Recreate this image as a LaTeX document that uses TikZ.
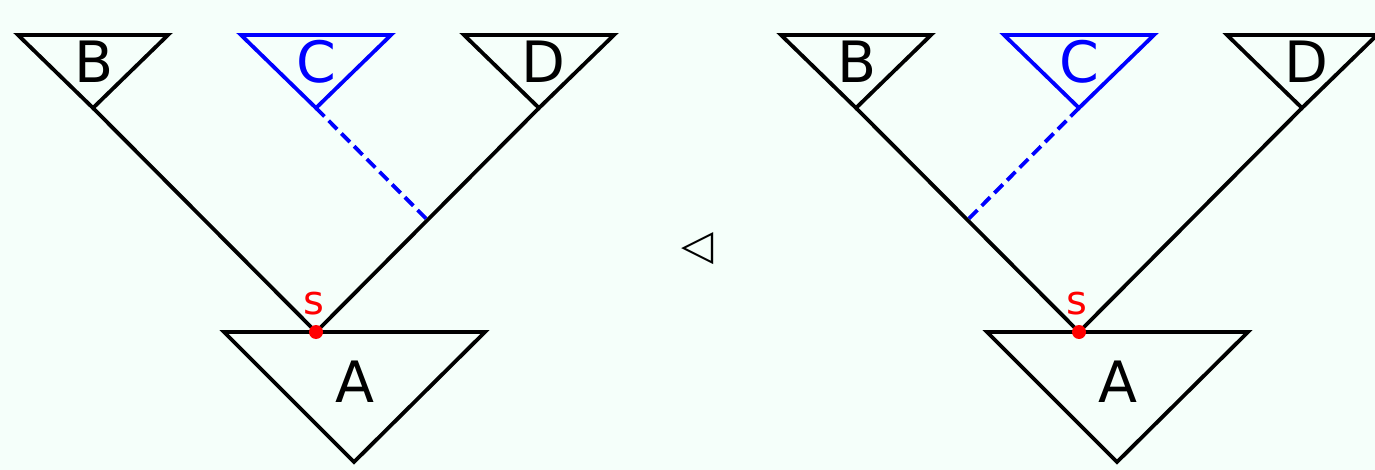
\documentclass[tikz,border=0pt]{standalone}
\usepackage{fontspec}
\setmainfont{DejaVu Sans}
\usetikzlibrary{positioning,calc}
\definecolor{mint}{RGB}{245,255,250}
\begin{document}
\begin{tikzpicture}
[
  x=1pt, y=-1pt,
  line width=3.8pt,
  every node/.style={inner sep=0pt, font=\fontsize{57}{60}\selectfont},
  graft/.style={blue, dash pattern=on 12pt off 6pt},
  root/.style={circle, fill=red, minimum size=14pt},
  rootlabel/.style={red, font=\fontsize{40}{40}\selectfont}
]
\fill[mint] (0,0) rectangle (1375,470);
\useasboundingbox (0,0) rectangle (1375,470);

% left tree
\coordinate (b1) at (93,108);
\coordinate (c1) at (316,108);
\coordinate (d1) at (539,108);
\coordinate (s1) at (316,332);
\coordinate (a1) at (354,462);
\coordinate (g1) at ($(s1)!.5!(d1)$);

\draw (b1) -- ++(-75,-73) -- ++(150,0) -- cycle;
\draw[blue] (c1) -- ++(-75,-73) -- ++(150,0) -- cycle;
\draw (d1) -- ++(-75,-73) -- ++(150,0) -- cycle;
\draw (a1) -- ++(-130,-130) -- ++(261,0) -- cycle;
\draw (b1) -- (s1) -- (d1);
\draw[graft] (c1) -- (g1);
\node[root] (r1) at (s1) {};

\node (lb1) at (94,62) {B};
\node[blue] (lc1) at (316,62) {C};
\node (ld1) at (543,62) {D};
\node (la1) at (355,382) {A};
\node[rootlabel] (ls1) at (314,304) {s};

% symbol
\node[font=\fontsize{42}{42}\selectfont] (op) at (698,249) {◁};

% right tree
\coordinate (b2) at (856,108);
\coordinate (c2) at (1079,108);
\coordinate (d2) at (1302,108);
\coordinate (s2) at (1079,332);
\coordinate (a2) at (1117,462);
\coordinate (g2) at ($(s2)!.5!(b2)$);

\draw (b2) -- ++(-75,-73) -- ++(150,0) -- cycle;
\draw[blue] (c2) -- ++(-75,-73) -- ++(150,0) -- cycle;
\draw (d2) -- ++(-75,-73) -- ++(150,0) -- cycle;
\draw (a2) -- ++(-130,-130) -- ++(261,0) -- cycle;
\draw (b2) -- (s2) -- (d2);
\draw[graft] (c2) -- (g2);
\node[root] (r2) at (s2) {};

\node (lb2) at (857,62) {B};
\node[blue] (lc2) at (1079,62) {C};
\node (ld2) at (1306,62) {D};
\node (la2) at (1118,382) {A};
\node[rootlabel] (ls2) at (1077,304) {s};
\end{tikzpicture}
\end{document}
